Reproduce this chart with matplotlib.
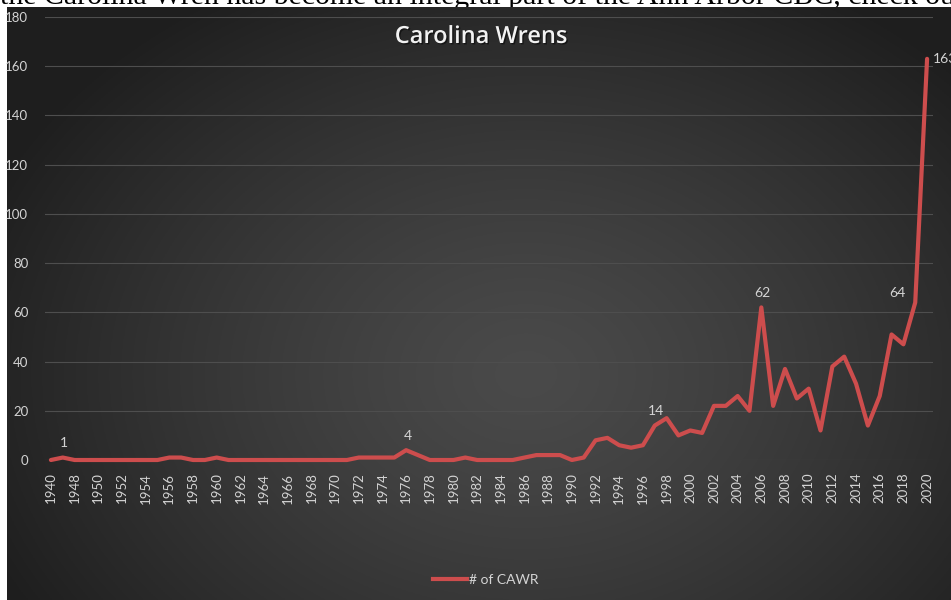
import matplotlib
matplotlib.use('Agg')
import matplotlib.pyplot as plt
import matplotlib.patheffects as pe
from matplotlib.lines import Line2D
import numpy as np

# data
years = ['1940', '1947'] + [str(y) for y in range(1948, 2021)]
counts = [0, 1,
          0, 0, 0, 0, 0, 0, 0, 0, 1, 1,      # 1948-1957
          0, 0, 1, 0, 0, 0, 0, 0, 0, 0,      # 1958-1967
          0, 0, 0, 0, 1, 1, 1, 1, 4, 2,      # 1968-1977
          0, 0, 0, 1, 0, 0, 0, 0, 1, 2,      # 1978-1987
          2, 2, 0, 1, 8, 9, 6, 5, 6, 14,     # 1988-1997
          17, 10, 12, 11, 22, 22, 26, 20, 62, 22,  # 1998-2007
          37, 25, 29, 12, 38, 42, 31, 14, 26, 51,  # 2008-2017
          47, 64, 163]                       # 2018-2020
labelled = {'1947': 'top', '1976': 'top', '1997': 'top', '2006': 'top',
            '2019': 'left', '2020': 'right'}

W, H = 951, 600
fig = plt.figure(figsize=(W / 100, H / 100), dpi=100, facecolor='white')

# cropped caption text at the very top (cut off in the original screenshot)
fig.text(0.0, 1 - 4 / H, 'the Carolina Wren has become an integral part of the Ann Arbor CBC, check out',
         fontsize=21.5, family='Liberation Serif', color='black', va='baseline', ha='left', zorder=-5)

# dark panel with radial gradient
bg = fig.add_axes([7 / W, 0, 1 - 7 / W, 1 - 7 / H], zorder=0)
gx, gy = np.meshgrid(np.linspace(0, 1, 400), np.linspace(0, 1, 300))
r = np.sqrt(((gx - 0.55) / 0.62) ** 2 + ((gy - 0.62) / 0.75) ** 2)
r = np.clip(r, 0, 1)
c_in, c_out = 0.29, 0.12
shade = c_in + (c_out - c_in) * r ** 1.3
bg.imshow(np.dstack([shade] * 3), extent=[0, 1, 0, 1], aspect='auto', origin='upper')
bg.axis('off')

# plot axes
left, right, top, bottom = 45, 933, 17, 460
ax = fig.add_axes([left / W, 1 - bottom / H, (right - left) / W, (bottom - top) / H], zorder=1)
ax.patch.set_alpha(0)

x = np.arange(len(years))
line_col = '#cd4d4d'
ax.plot(x, counts, color=line_col, lw=3, solid_joinstyle='round', solid_capstyle='round',
        zorder=3, clip_on=False)

ax.set_xlim(-0.5, len(years) - 0.5)
ax.set_ylim(0, 180)
ax.set_yticks(range(0, 181, 20))
ax.set_xticks(x[::2])
ax.set_xticklabels(years[::2], rotation=90, fontsize=9.5, color='#d4d4d4', family='Lato')
for t in ax.get_yticklabels():
    t.set_fontsize(9.5)
    t.set_color('#d4d4d4')
    t.set_family('Lato')
ax.tick_params(axis='both', length=0)
ax.tick_params(axis='x', pad=9)
ax.tick_params(axis='y', pad=12)
ax.grid(axis='y', color='#4e4e4e', lw=0.8)
ax.set_axisbelow(True)
for s in ax.spines.values():
    s.set_visible(False)

# data labels
for yr, pos in labelled.items():
    i = years.index(yr)
    v = counts[i]
    if pos == 'top':
        off, ha, va = (1, 6), 'center', 'bottom'
    elif pos == 'left':
        off, ha, va = (-7, 7), 'right', 'center'
    else:
        off, ha, va = (4, 0), 'left', 'center'
    ax.annotate(str(v), (i, v), xytext=off, textcoords='offset points', ha=ha, va=va,
                fontsize=10, color='#d4d4d4', family='Lato', annotation_clip=False, zorder=4)

# title
fig.text(481 / W, 1 - 37 / H, 'Carolina Wrens', fontsize=17, fontweight='semibold', color='#f2f2f2',
         ha='center', va='center', family='Open Sans',
         path_effects=[pe.withSimplePatchShadow(offset=(1, -1), shadow_rgbFace='black', alpha=0.5)])

# legend
handle = Line2D([], [], color=line_col, lw=3)
fig.legend([handle], ['# of CAWR'], loc='center', bbox_to_anchor=(486 / W, 1 - 580 / H),
           frameon=False, labelcolor='#d4d4d4', handlelength=2.4, handletextpad=0.2,
           prop={'family': 'Lato', 'size': 10})

fig.savefig('out.png', dpi=100, facecolor='white')
